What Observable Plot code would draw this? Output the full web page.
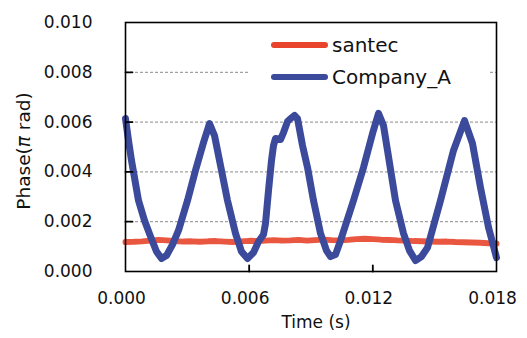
<!DOCTYPE html>
<html><head><meta charset="utf-8">
<script src="https://cdn.jsdelivr.net/npm/d3@7"></script>
<script src="https://cdn.jsdelivr.net/npm/@observablehq/plot@0.6"></script>
<style>
body{margin:0;background:#fff;font-family:"DejaVu Sans",sans-serif}
#wrap{position:relative;width:527px;height:338px;overflow:hidden}
#legend{position:absolute;left:248px;top:25px;width:240px;height:70px;background:#fff;font-size:20px;color:#111}
.row{position:absolute;left:23px;display:flex;align-items:center;height:24px}
.sw{display:inline-block;width:57px;height:6px;border-radius:3px;margin-right:4px}
</style></head><body><div id="wrap"></div>
<script>
const seriesNames = ["santec", "Company_A"];
const seriesColors = ["#e8452c", "#3b4a9b"];
const xTicks = [0, 0.006, 0.012, 0.018];
const yTicks = [0, 0.002, 0.004, 0.006, 0.008, 0.010];
const gridTicks = [0.002, 0.004, 0.006, 0.008];
const xInnerTicks = [0.006, 0.012];

const santecT = [0,0.0004,0.0008,0.0012,0.0016,0.002,0.0024,0.0028,0.0032,0.0036,
  0.004,0.0044,0.0048,0.0052,0.0056,0.006,0.0064,0.0068,0.0072,0.0076,
  0.008,0.0084,0.0088,0.0092,0.0096,0.01,0.0104,0.0108,0.0112,0.0116,
  0.012,0.0124,0.0128,0.0132,0.0136,0.014,0.0144,0.0148,0.0152,0.0156,
  0.016,0.0164,0.0168,0.0172,0.0176,0.018];
const santecV = [0.00118,0.00119,0.00121,0.00124,0.00127,0.00125,0.00122,0.00120,0.00121,0.00119,
  0.00121,0.00122,0.00120,0.00118,0.00121,0.00123,0.00122,0.00124,0.00126,0.00124,
  0.00125,0.00127,0.00124,0.00126,0.00128,0.00126,0.00125,0.00127,0.00130,0.00132,
  0.00130,0.00128,0.00127,0.00125,0.00124,0.00122,0.00121,0.00120,0.00119,0.00120,
  0.00118,0.00117,0.00116,0.00115,0.00113,0.00112];

const companyT = [0,0.000146,0.000291,0.000631,0.000922,0.001213,0.001504,0.001747,0.001989,0.00228,
  0.002572,0.003008,0.003396,0.003785,0.004076,0.004318,0.004609,0.004949,0.005337,0.005628,
  0.005919,0.00621,0.006453,0.006696,0.006793,0.006938,0.007084,0.007181,0.007278,0.00752,
  0.007666,0.00786,0.008006,0.0082,0.008346,0.008588,0.008831,0.009122,0.009462,0.009753,
  0.009947,0.010189,0.010432,0.011062,0.011548,0.011984,0.012275,0.012518,0.012712,0.0131,
  0.013488,0.013779,0.01407,0.014361,0.014653,0.015283,0.015914,0.016448,0.016836,0.017224,
  0.017612,0.018];
const companyV = [0.00614,0.00526,0.00446,0.00285,0.00205,0.00141,0.00080,0.00052,0.00064,0.00108,
  0.00165,0.00285,0.00406,0.00518,0.00594,0.00546,0.00426,0.00285,0.00153,0.00080,
  0.00052,0.00076,0.00120,0.00149,0.00193,0.00325,0.00446,0.00506,0.00534,0.00530,
  0.00558,0.00602,0.00614,0.00627,0.00614,0.00506,0.00418,0.00285,0.00153,0.00084,
  0.00060,0.00068,0.00124,0.00285,0.00418,0.00554,0.00635,0.00586,0.00486,0.00285,
  0.00153,0.00084,0.00044,0.00060,0.00096,0.00285,0.00486,0.00606,0.00514,0.00337,
  0.00177,0.00056];

const santec = santecT.map((t, i) => ({t, v: santecV[i]}));
const company = companyT.map((t, i) => ({t, v: companyV[i]}));

const tickShape = {draw(context, l) { context.moveTo(0, 0); context.lineTo(0, -l); }};

const plot = Plot.plot({
  width: 527, height: 338,
  marginLeft: 125, marginRight: 31, marginTop: 22, marginBottom: 67,
  style: {fontFamily: "DejaVu Sans", fontSize: "17px", background: "#fff", color: "#111"},
  x: {domain: [0, 0.018]},
  y: {domain: [0, 0.010]},
  marks: [
    Plot.gridY(gridTicks, {stroke: "#8a8a8a", strokeOpacity: 1, strokeDasharray: "3,2"}),
    Plot.line(santec, {x: "t", y: "v", stroke: seriesColors[0], strokeWidth: 6, strokeOpacity: 0.9}),
    Plot.line(company, {x: "t", y: "v", stroke: seriesColors[1], strokeWidth: 7, strokeLinejoin: "round", strokeLinecap: "round"}),
    Plot.frame({stroke: "#000", strokeWidth: 1.6}),
    Plot.vector(gridTicks, {y: d => d, frameAnchor: "left", length: 7, rotate: 90, anchor: "start", shape: tickShape, stroke: "#000", strokeWidth: 1.8}),
    Plot.vector(xInnerTicks, {x: d => d, frameAnchor: "bottom", length: 6, rotate: 0, anchor: "start", shape: tickShape, stroke: "#000", strokeWidth: 1.8}),
    Plot.axisY(yTicks, {tickSize: 0, tickPadding: 33, tickFormat: d3.format(".3f"), fontSize: 17, label: null}),
    Plot.axisX(xTicks, {tickSize: 0, tickPadding: 20, tickFormat: d3.format(".3f"), fontSize: 17, dx: -4, label: null})
  ]
});

const wrap = document.getElementById("wrap");
wrap.appendChild(plot);

const svg = d3.select(plot);
const yl = svg.append("text")
  .attr("transform", "translate(30,151) rotate(-90)")
  .attr("text-anchor", "middle")
  .attr("font-size", 18.5).attr("fill", "#111");
yl.append("tspan").text("Phase(");
yl.append("tspan").attr("font-style", "italic").text("π");
yl.append("tspan").text(" rad)");
svg.append("text").attr("x", 316).attr("y", 328)
  .attr("text-anchor", "middle").attr("font-size", 17).attr("fill", "#111")
  .text("Time (s)");

const legend = document.createElement("div");
legend.id = "legend";
seriesNames.forEach((name, i) => {
  const row = document.createElement("div");
  row.className = "row";
  row.style.top = (i === 0 ? 8 : 40) + "px";
  const sw = document.createElement("span");
  sw.className = "sw";
  sw.style.background = seriesColors[i];
  const tx = document.createElement("span");
  tx.textContent = name;
  row.appendChild(sw); row.appendChild(tx);
  legend.appendChild(row);
});
wrap.appendChild(legend);
</script></body></html>
